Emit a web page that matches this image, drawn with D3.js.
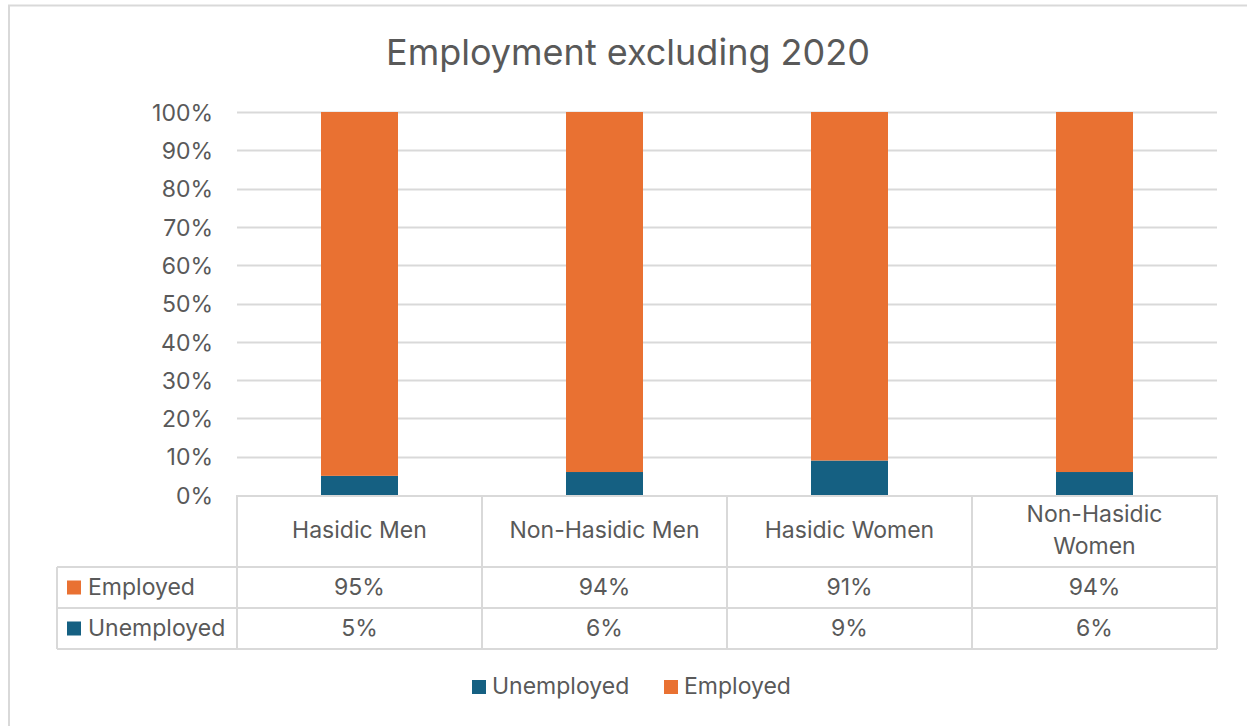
<!DOCTYPE html>
<html>
<head>
<meta charset="utf-8">
<script src="https://cdn.jsdelivr.net/npm/d3@7"></script>
<style>
  html, body { margin: 0; padding: 0; background: #fff; }
  svg { display: block; }
  text { font-family: "Inter", "Open Sans", sans-serif; fill: #595959; }
</style>
</head>
<body>
<svg id="chart" width="1247" height="726"></svg>
<script>
// Data
const categories = [["Hasidic Men"], ["Non-Hasidic Men"], ["Hasidic Women"], ["Non-Hasidic", "Women"]];
const categoryKeys = ["Hasidic Men", "Non-Hasidic Men", "Hasidic Women", "Non-Hasidic Women"];
const unemployed = [5, 6, 9, 6];
const employed = [95, 94, 91, 94];
const yTicks = [0, 10, 20, 30, 40, 50, 60, 70, 80, 90, 100];
const seriesNames = ["Unemployed", "Employed"];
const colors = { Unemployed: "#156082", Employed: "#E97132" };
const titleText = "Employment excluding 2020";

const svg = d3.select("#chart");
const W = 1247, H = 726;
const grid = "#D9D9D9";
const fs = 23;

// Chart frame
svg.append("rect").attr("x", 9).attr("y", 5.5).attr("width", W + 10).attr("height", H + 10)
  .attr("fill", "#fff").attr("stroke", grid).attr("stroke-width", 2);

// Plot area
const plotLeft = 237, plotRight = 1217, plotTop = 112, plotBottom = 495;
const x = d3.scaleBand().domain(categoryKeys).range([plotLeft, plotRight]).paddingInner(0).paddingOuter(0);
const y = d3.scaleLinear().domain([0, 100]).range([plotBottom, plotTop]);

// Title
svg.append("text").attr("x", 628).attr("y", 65).attr("text-anchor", "middle")
  .attr("font-size", 36).text(titleText);

// Gridlines and y-axis labels
const yAxis = d3.axisLeft(y).tickValues(yTicks).tickSize(0).tickPadding(0)
  .tickFormat(d => d + "%");
const yg = svg.append("g").attr("transform", `translate(${213},0)`).call(yAxis);
yg.select(".domain").remove();
yg.selectAll("text").attr("font-size", fs).attr("fill", "#595959")
  .attr("font-family", "Inter, 'Open Sans', sans-serif").attr("dy", "0.36em");

svg.append("g").selectAll("line").data(yTicks.filter(d => d > 0)).join("line")
  .attr("x1", plotLeft).attr("x2", plotRight)
  .attr("y1", d => Math.round(y(d)) + 0.5).attr("y2", d => Math.round(y(d)) + 0.5)
  .attr("stroke", grid).attr("stroke-width", 2);

// Stacked bars
const rows = categoryKeys.map((c, i) => ({ cat: c, Unemployed: unemployed[i], Employed: employed[i] }));
const stack = d3.stack().keys(seriesNames)(rows);
const barW = 77;
svg.append("g").selectAll("g").data(stack).join("g")
  .attr("fill", d => colors[d.key])
  .selectAll("rect").data(d => d).join("rect")
  .attr("x", d => x(d.data.cat) + x.bandwidth() / 2 - barW / 2)
  .attr("width", barW)
  .attr("y", d => y(d[1]))
  .attr("height", d => y(d[0]) - y(d[1]));

// Data table
const tLeft = 57, hdrBottom = 567, r1Bottom = 608, r2Bottom = 649;
const tg = svg.append("g").attr("stroke", grid).attr("stroke-width", 2);
tg.append("line").attr("x1", plotLeft).attr("x2", plotRight).attr("y1", plotBottom + 1).attr("y2", plotBottom + 1);
[hdrBottom, r1Bottom, r2Bottom].forEach(yy =>
  tg.append("line").attr("x1", tLeft).attr("x2", plotRight).attr("y1", yy).attr("y2", yy));
tg.append("line").attr("x1", tLeft).attr("x2", tLeft).attr("y1", hdrBottom).attr("y2", r2Bottom);
const vxs = categoryKeys.map(c => x(c)).concat([plotRight]);
vxs.forEach(vx => tg.append("line").attr("x1", vx).attr("x2", vx).attr("y1", plotBottom).attr("y2", r2Bottom));

// Header labels
categories.forEach((lines, i) => {
  const cx = x(categoryKeys[i]) + x.bandwidth() / 2;
  const n = lines.length;
  lines.forEach((ln, j) => {
    svg.append("text").attr("x", cx).attr("y", (plotBottom + hdrBottom) / 2 - 1 + (j - (n - 1) / 2) * 32)
      .attr("dy", "0.36em").attr("text-anchor", "middle").attr("font-size", fs).text(ln);
  });
});

// Table rows
const tableRows = [
  { name: "Employed", vals: employed, y0: hdrBottom, y1: r1Bottom },
  { name: "Unemployed", vals: unemployed, y0: r1Bottom, y1: r2Bottom }
];
tableRows.forEach(r => {
  const cy = (r.y0 + r.y1) / 2 - 1;
  svg.append("rect").attr("x", 67).attr("y", cy - 6).attr("width", 14).attr("height", 14)
    .attr("fill", colors[r.name]);
  svg.append("text").attr("x", 88).attr("y", cy).attr("dy", "0.36em").attr("font-size", fs).text(r.name);
  r.vals.forEach((v, i) => {
    svg.append("text").attr("x", x(categoryKeys[i]) + x.bandwidth() / 2).attr("y", cy)
      .attr("dy", "0.36em").attr("text-anchor", "middle").attr("font-size", fs).text(v + "%");
  });
});

// Legend
const legendItems = [{ name: "Unemployed", x: 472 }, { name: "Employed", x: 664 }];
legendItems.forEach(it => {
  svg.append("rect").attr("x", it.x).attr("y", 680).attr("width", 14).attr("height", 14)
    .attr("fill", colors[it.name]);
  svg.append("text").attr("x", it.x + 20).attr("y", 686).attr("dy", "0.36em")
    .attr("font-size", fs).text(it.name);
});
</script>
</body>
</html>
